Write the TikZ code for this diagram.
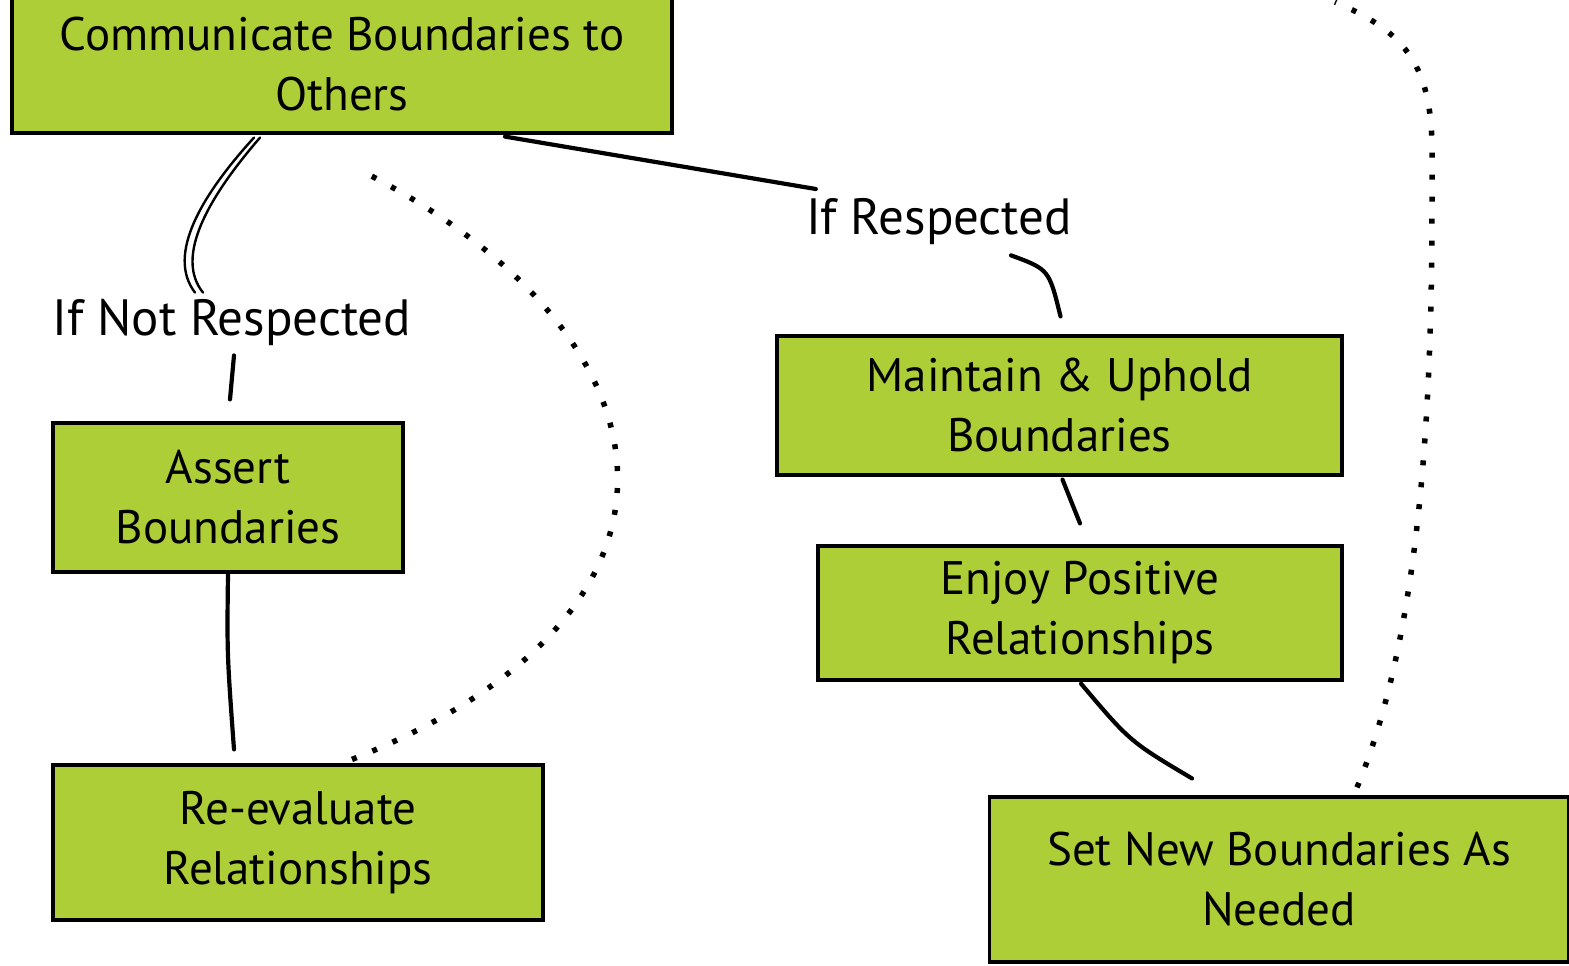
\documentclass[tikz,border=0pt]{standalone}
\usepackage{fontspec}
\setmainfont{PT Sans}
\usetikzlibrary{calc}
\definecolor{boxgreen}{RGB}{174,206,56}
\tikzset{
  box/.style={draw=black, fill=boxgreen, line width=3.2pt, inner sep=0pt,
    align=center, font=\fontsize{47}{60}\selectfont},
  lbl/.style={inner sep=2pt, align=center, font=\fontsize{51}{60}\selectfont},
  conn/.style={draw=black, line width=4.2pt, line cap=round},
  thin conn/.style={draw=black, line width=2.4pt, line cap=round},
  dotconn/.style={draw=black, line width=5.5pt, dash pattern=on 5pt off 17pt}
}
\begin{document}
\begin{tikzpicture}[x=1pt,y=-1pt]
\useasboundingbox (0,0) rectangle (1569,966);
\clip (0,0) rectangle (1569,966);
\fill[white] (0,0) rectangle (1569,966);

% boxes
\node[box, minimum width=660pt, minimum height=138pt] (comm) at (342,64) {Communicate Boundaries to\\Others};
\node[box, minimum width=350pt, minimum height=149pt] (assert) at (228,497.5) {Assert\\Boundaries};
\node[box, minimum width=490pt, minimum height=155pt] (reeval) at (298,842.5) {Re-evaluate\\Relationships};
\node[box, minimum width=565pt, minimum height=139pt] (maint) at (1059.5,405.5) {Maintain \& Uphold\\Boundaries};
\node[box, minimum width=524pt, minimum height=134pt] (enjoy) at (1080,613) {Enjoy Positive\\Relationships};
\node[box, minimum width=579pt, minimum height=165pt] (setnew) at (1279,879.5) {Set New Boundaries As\\Needed};

% labels
\node[lbl] (ifnot) at (232,322) {If Not Respected};
\node[lbl] (ifresp) at (939,222) {If Respected};

% comm -> if not respected (double stroke)
\draw[thin conn] ($(comm.south)+(-88,3)$) .. controls ($(comm.south)+(-140,60)$) and ($(comm.south)+(-176,120)$) .. ($(ifnot.north)+(-37,-4)$);
\draw[thin conn] ($(comm.south)+(-82,3)$) .. controls ($(comm.south)+(-133,62)$) and ($(comm.south)+(-168,122)$) .. ($(ifnot.north)+(-29,-4)$);

% if not respected -> assert
\draw[conn] ($(ifnot.south)+(2,8)$) -- ($(assert.north)+(2,-22)$);
% assert -> reeval
\draw[conn] (assert.south) .. controls ($(assert.south)+(-1,80)$) .. ($(reeval.north)+(-64,-14)$);

% comm -> if respected
\draw[conn] ($(comm.south)+(163,2)$) -- ($(ifresp.west)+(12,-33)$);
% if respected -> maintain
\draw[conn] ($(ifresp.south)+(72,8)$) .. controls ($(ifresp.south)+(110,22)$) .. ($(maint.north)+(1,-18)$);
% maintain -> enjoy
\draw[conn] ($(maint.south)+(3,3)$) -- ($(enjoy.north)+(0,-21)$);
% enjoy -> setnew
\draw[conn] ($(enjoy.south)+(1,2)$) .. controls ($(enjoy.south)+(50,60)$) .. ($(setnew.north)+(-87,-17)$);

% dotted loops
\draw[dotconn] ($(reeval.north)+(54,-4)$) .. controls (730,610) and (680,330) .. ($(comm.south)+(15,34)$);
\coordinate (topend) at (1335,2);
\draw[dotconn] ($(setnew.north)+(78,-8)$) .. controls (1435,600) and (1432,300) .. (1432,150) .. controls (1432,60) and (1400,30) .. (topend);
\end{tikzpicture}
\end{document}
